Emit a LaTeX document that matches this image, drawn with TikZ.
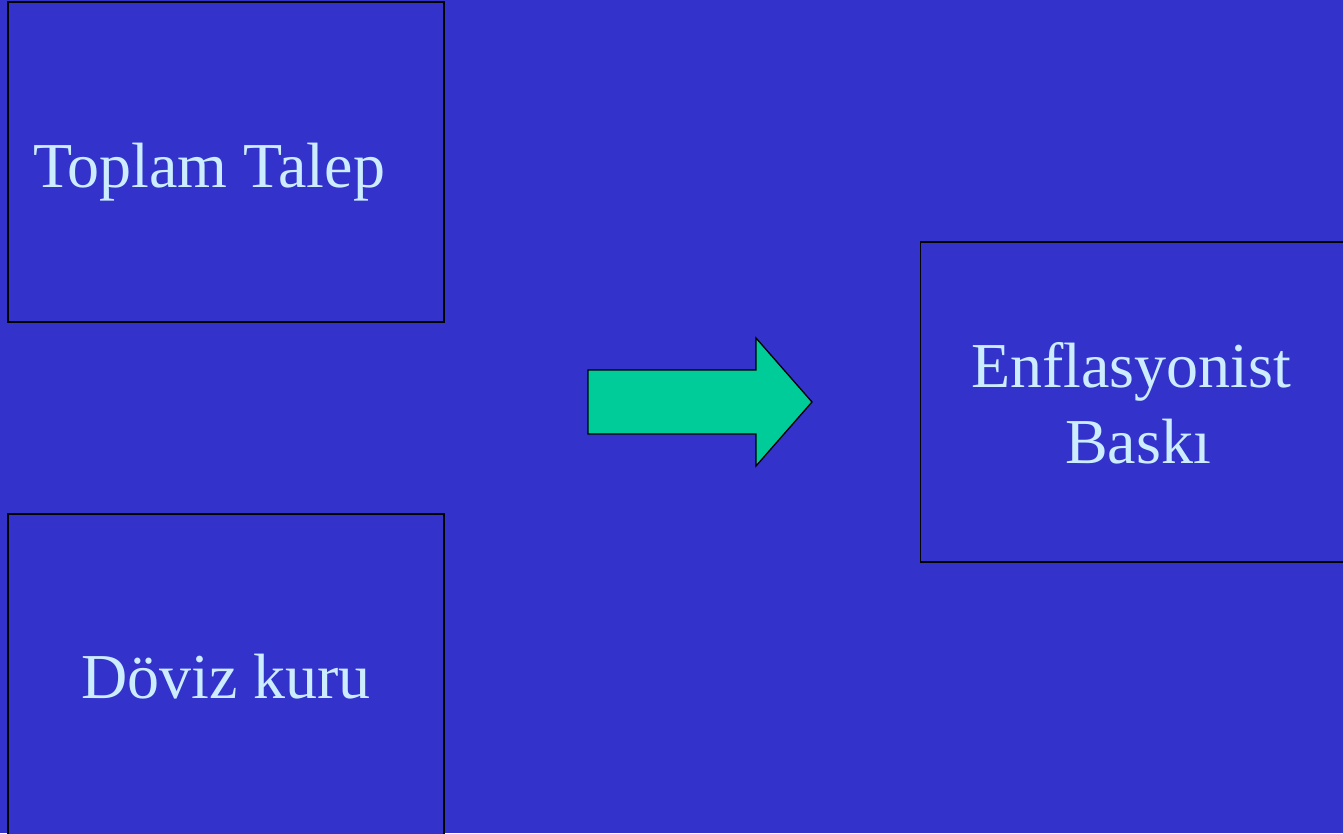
\documentclass[tikz,border=0pt]{standalone}
\usepackage{fontspec}
\setmainfont{Liberation Serif}
\definecolor{bgblue}{HTML}{3333CC}
\definecolor{txtblue}{HTML}{CCECFF}
\definecolor{arrgreen}{HTML}{00CC99}
\begin{document}
\begin{tikzpicture}[x=1pt,y=-1pt,
  box/.style={draw=black,line width=1.3pt,fill=bgblue},
  lbl/.style={text=txtblue,font=\fontsize{64}{70}\selectfont,anchor=base,inner sep=0pt}]
\useasboundingbox (0,0) rectangle (1343,833);
\fill[bgblue] (0,0) rectangle (1343,833);
\begin{scope}
\clip (0,0) rectangle (1343,833);
\draw[box] (8,2) rectangle (444,322);
\draw[box] (8,514) rectangle (444,845);
\draw[box] (920.5,242) rectangle (1355,562);
\end{scope}
\coordinate (b1) at (226,162);
\node[lbl] (t1) at (209,187) {Toplam Talep};
\node[lbl] (t2) at (226,698) {Döviz kuru};
\node[lbl] (t3) at (1131,387) {Enflasyonist};
\node[lbl] (t4) at (1138,463) {Baskı};
\draw[black,line width=1.3pt,fill=arrgreen,line join=miter]
  (588,370) -- (756,370) -- (756,338) -- (812,402) -- (756,466) -- (756,434) -- (588,434) -- cycle;
\end{tikzpicture}
\end{document}
